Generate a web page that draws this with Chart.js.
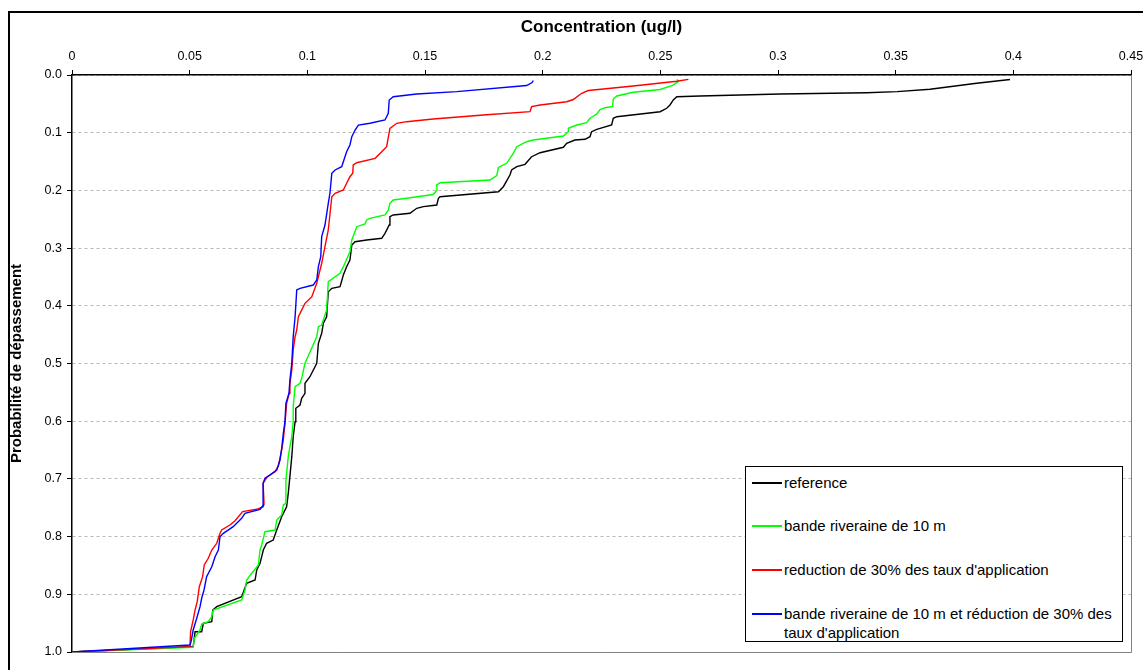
<!DOCTYPE html>
<html>
<head>
<meta charset="utf-8">
<script src="https://cdn.jsdelivr.net/npm/chart.js@4/dist/chart.umd.min.js"></script>
<style>
  html, body { margin: 0; padding: 0; background: #ffffff; }
  #wrap { position: relative; width: 1143px; height: 670px; overflow: hidden; }
  #c { position: absolute; left: 0; top: 0; }
  #legend { position: absolute; left: 745px; top: 466px; width: 378px; height: 176px;
    border: 1px solid #000; background: #fff; font-family: "Liberation Sans", Arial, sans-serif;
    font-size: 15px; color: #000; box-sizing: border-box; }
  .item { position: absolute; left: 6px; white-space: nowrap; line-height: 19px; }
  .swatch { position: absolute; left: 0; width: 30px; height: 1.5px; top: 9px; }
  .lbl { position: absolute; left: 32px; top: 0; }
</style>
</head>
<body>
<div id="wrap">
  <canvas id="c" width="1143" height="670"></canvas>
  <div id="legend"></div>
</div>
<script>
// Axis tick labels
const xTickLabels = ['0', '0.05', '0.1', '0.15', '0.2', '0.25', '0.3', '0.35', '0.4', '0.45'];
const yTickLabels = ['0.0', '0.1', '0.2', '0.3', '0.4', '0.5', '0.6', '0.7', '0.8', '0.9', '1.0'];

// Series names
const seriesNames = [
  'reference',
  'bande riveraine de 10 m',
  "reduction de 30% des taux d'application",
  "bande riveraine de 10 m et réduction de 30% des taux d'application"
];

// [concentration (ug/l), probabilité de dépassement]
const reference = [[0,1.0],[0.0515,0.9908],[0.0523,0.9648],[0.0551,0.9648],[0.0558,0.9503],[0.0594,0.9475],[0.0598,0.9272],[0.0615,0.9215],[0.0721,0.9042],[0.0742,0.8809],[0.0778,0.8752],[0.0785,0.8579],[0.0799,0.8463],[0.0813,0.8232],[0.0827,0.8116],[0.0855,0.8059],[0.0870,0.7886],[0.0891,0.7655],[0.0912,0.7482],[0.0919,0.7250],[0.0934,0.6615],[0.0940,0.6269],[0.0948,0.6009],[0.0951,0.5776],[0.0969,0.5719],[0.0976,0.5603],[0.0990,0.5516],[0.0990,0.5343],[0.1011,0.5229],[0.1040,0.4997],[0.1047,0.4650],[0.1061,0.4477],[0.1068,0.4303],[0.1082,0.4189],[0.1089,0.3756],[0.1104,0.3697],[0.1139,0.3669],[0.1153,0.3466],[0.1167,0.3322],[0.1181,0.3206],[0.1189,0.2946],[0.1203,0.2889],[0.1252,0.2860],[0.1316,0.2830],[0.1330,0.2744],[0.1348,0.2600],[0.1351,0.2456],[0.1365,0.2426],[0.1436,0.2397],[0.1465,0.2310],[0.1493,0.2282],[0.1550,0.2253],[0.1557,0.2137],[0.1564,0.2109],[0.1812,0.2023],[0.1833,0.1936],[0.1861,0.1733],[0.1868,0.1646],[0.1890,0.1589],[0.1925,0.1548],[0.1953,0.1416],[0.1989,0.1347],[0.2088,0.1253],[0.2102,0.1184],[0.2137,0.1127],[0.2180,0.1114],[0.2201,0.1069],[0.2208,0.0983],[0.2230,0.0941],[0.2293,0.0867],[0.2300,0.0750],[0.2315,0.0723],[0.2499,0.0636],[0.2527,0.0577],[0.2541,0.0520],[0.2555,0.0433],[0.2570,0.0376],[0.2669,0.0364],[0.3009,0.0329],[0.3377,0.0307],[0.3506,0.0289],[0.3646,0.0248],[0.3844,0.0144],[0.3986,0.0078]];

const bandeRiveraine = [[0,1.0],[0.0515,0.9919],[0.0520,0.9763],[0.0544,0.9619],[0.0551,0.9515],[0.0579,0.9475],[0.0594,0.9388],[0.0600,0.9272],[0.0721,0.9099],[0.0735,0.8925],[0.0742,0.8752],[0.0764,0.8636],[0.0792,0.8492],[0.0799,0.8232],[0.0806,0.8146],[0.0820,0.7915],[0.0863,0.7886],[0.0870,0.7712],[0.0891,0.7626],[0.0898,0.7452],[0.0908,0.7423],[0.0909,0.7019],[0.0919,0.6615],[0.0926,0.6442],[0.0934,0.6269],[0.0940,0.6009],[0.0940,0.5749],[0.0948,0.5402],[0.0969,0.5343],[0.0976,0.5257],[0.0990,0.4997],[0.1040,0.4536],[0.1047,0.4362],[0.1061,0.4333],[0.1082,0.4073],[0.1089,0.3582],[0.1139,0.3437],[0.1153,0.3322],[0.1181,0.3062],[0.1189,0.2860],[0.1210,0.2629],[0.1245,0.2582],[0.1252,0.2513],[0.1266,0.2484],[0.1330,0.2426],[0.1344,0.2340],[0.1351,0.2224],[0.1365,0.2166],[0.1422,0.2137],[0.1535,0.2071],[0.1551,0.1993],[0.1550,0.1906],[0.1564,0.1867],[0.1776,0.1820],[0.1805,0.1742],[0.1812,0.1603],[0.1847,0.1530],[0.1875,0.1357],[0.1890,0.1243],[0.1932,0.1156],[0.1960,0.1127],[0.2088,0.1057],[0.2109,0.0983],[0.2109,0.0924],[0.2145,0.0867],[0.2187,0.0827],[0.2201,0.0750],[0.2230,0.0676],[0.2244,0.0598],[0.2265,0.0567],[0.2297,0.0546],[0.2300,0.0416],[0.2315,0.0364],[0.2385,0.0300],[0.2499,0.0251],[0.2552,0.0179],[0.2576,0.0116],[0.2571,0.0075]];

const reduction30 = [[0,1.0],[0.0501,0.9908],[0.0504,0.9648],[0.0515,0.9445],[0.0523,0.9272],[0.0532,0.9128],[0.0541,0.8868],[0.0555,0.8695],[0.0562,0.8492],[0.0579,0.8376],[0.0594,0.8232],[0.0615,0.8116],[0.0629,0.7943],[0.0636,0.7886],[0.0671,0.7799],[0.0693,0.7724],[0.0725,0.7568],[0.0785,0.7527],[0.0813,0.7482],[0.0816,0.7418],[0.0812,0.7076],[0.0829,0.6967],[0.0863,0.6875],[0.0877,0.6776],[0.0891,0.6499],[0.0898,0.6326],[0.0905,0.6036],[0.0912,0.5690],[0.0923,0.5516],[0.0926,0.5343],[0.0934,0.5113],[0.0940,0.4766],[0.0948,0.4536],[0.0955,0.4419],[0.0962,0.4189],[0.0990,0.3957],[0.1019,0.3842],[0.1040,0.3610],[0.1061,0.3263],[0.1075,0.2976],[0.1089,0.2686],[0.1104,0.2109],[0.1118,0.2050],[0.1153,0.1993],[0.1167,0.1877],[0.1181,0.1763],[0.1193,0.1704],[0.1195,0.1560],[0.1210,0.1520],[0.1288,0.1444],[0.1316,0.1329],[0.1337,0.1243],[0.1351,0.0924],[0.1380,0.0837],[0.1422,0.0809],[0.1535,0.0763],[0.1748,0.0693],[0.1946,0.0636],[0.1953,0.0549],[0.1989,0.0520],[0.2102,0.0463],[0.2130,0.0425],[0.2166,0.0317],[0.2194,0.0269],[0.2385,0.0191],[0.2570,0.0109],[0.2619,0.0075]];

const bandeEtReduction = [[0,1.0],[0.0501,0.9879],[0.0506,0.9821],[0.0515,0.9619],[0.0530,0.9416],[0.0544,0.9215],[0.0551,0.9069],[0.0561,0.8925],[0.0572,0.8695],[0.0594,0.8522],[0.0608,0.8348],[0.0622,0.8232],[0.0629,0.8002],[0.0643,0.7943],[0.0685,0.7828],[0.0721,0.7683],[0.0735,0.7596],[0.0799,0.7527],[0.0813,0.7452],[0.0812,0.7076],[0.0820,0.6990],[0.0841,0.6932],[0.0870,0.6846],[0.0884,0.6672],[0.0891,0.6470],[0.0898,0.6210],[0.0905,0.6009],[0.0909,0.5690],[0.0922,0.5516],[0.0926,0.5286],[0.0934,0.4991],[0.0940,0.4536],[0.0948,0.4189],[0.0955,0.3726],[0.0969,0.3697],[0.1025,0.3640],[0.1040,0.3553],[0.1047,0.3322],[0.1057,0.3149],[0.1061,0.2802],[0.1075,0.2600],[0.1089,0.2224],[0.1096,0.2050],[0.1104,0.1704],[0.1118,0.1646],[0.1146,0.1589],[0.1160,0.1416],[0.1167,0.1329],[0.1181,0.1213],[0.1189,0.1069],[0.1203,0.0953],[0.1217,0.0867],[0.1266,0.0837],[0.1330,0.0780],[0.1344,0.0664],[0.1348,0.0433],[0.1365,0.0376],[0.1465,0.0329],[0.1635,0.0289],[0.1932,0.0182],[0.1955,0.0130],[0.1960,0.0095]];

const seriesData = [reference, bandeRiveraine, reduction30, bandeEtReduction];
const seriesColors = ['#000000', '#00ff00', '#ff0000', '#0000ff'];

const FONT = '"Liberation Sans", Arial, sans-serif';

const framePlugin = {
  id: 'frame',
  afterDraw(chart) {
    const ctx = chart.ctx;
    const a = chart.chartArea;
    ctx.save();
    // right and bottom plot border (gray)
    ctx.strokeStyle = '#808080';
    ctx.lineWidth = 1;
    ctx.beginPath();
    ctx.moveTo(Math.round(a.right) + 0.5, a.top);
    ctx.lineTo(Math.round(a.right) + 0.5, Math.round(a.bottom) + 0.5);
    ctx.lineTo(a.left, Math.round(a.bottom) + 0.5);
    ctx.stroke();
    // outer chart frame
    ctx.strokeStyle = '#000000';
    ctx.lineWidth = 2;
    ctx.beginPath();
    ctx.moveTo(9, chart.height + 5);
    ctx.lineTo(9, 12);
    ctx.lineTo(chart.width + 5, 12);
    ctx.stroke();
    ctx.restore();
  }
};

const datasets = seriesData.map((s, i) => ({
  label: seriesNames[i],
  data: s.map(p => ({ x: p[0], y: p[1] })),
  showLine: true,
  borderColor: seriesColors[i],
  backgroundColor: seriesColors[i],
  borderWidth: 1.4,
  pointRadius: 0,
  tension: 0,
  fill: false,
  order: 4 - i
}));

const chart = new Chart(document.getElementById('c'), {
  type: 'scatter',
  data: { datasets },
  plugins: [framePlugin],
  options: {
    responsive: false,
    animation: false,
    devicePixelRatio: 1,
    layout: { padding: { left: 0, top: 0, right: 12, bottom: 18 } },
    plugins: { legend: { display: false }, tooltip: { enabled: false } },
    scales: {
      x: {
        type: 'linear',
        position: 'top',
        min: 0,
        max: 0.45,
        afterFit(scale) { scale.height = 75; scale.paddingLeft = 0; scale.paddingRight = 0; },
        ticks: {
          stepSize: 0.05,
          color: '#000',
          padding: 6,
          font: { family: FONT, size: 12.5 },
          callback: (v) => xTickLabels[Math.round(v / 0.05)]
        },
        grid: { drawOnChartArea: false, drawTicks: true, tickLength: 5, tickColor: '#000', color: '#000' },
        border: { display: true, color: '#000', width: 1.5 },
        title: {
          display: true,
          text: 'Concentration (ug/l)',
          color: '#000',
          font: { family: FONT, size: 17, weight: 'bold' },
          padding: { top: 17, bottom: 0 }
        }
      },
      y: {
        type: 'linear',
        reverse: true,
        min: 0,
        max: 1,
        afterFit(scale) { scale.width = 72; scale.paddingTop = 0; scale.paddingBottom = 0; },
        ticks: {
          stepSize: 0.1,
          color: '#000',
          padding: 5,
          font: { family: FONT, size: 12.5 },
          callback: (v) => yTickLabels[Math.round(v * 10)]
        },
        grid: { drawOnChartArea: true, drawTicks: true, tickLength: 5, tickColor: '#000', color: '#b8b8b8', lineWidth: 1 },
        border: { display: true, color: '#000', width: 1.5, dash: [3, 3] },
        title: {
          display: true,
          text: 'Probabilité de dépassement',
          color: '#000',
          font: { family: FONT, size: 15, weight: 'bold' },
          padding: { top: 8, bottom: 0 }
        }
      }
    }
  }
});

// HTML legend built from the chart's datasets
const legend = document.getElementById('legend');
const itemTops = [6, 49, 93, 137];
chart.data.datasets.forEach((ds, i) => {
  const item = document.createElement('div');
  item.className = 'item';
  item.style.top = itemTops[i] + 'px';
  const sw = document.createElement('div');
  sw.className = 'swatch';
  sw.style.background = ds.borderColor;
  const lbl = document.createElement('div');
  lbl.className = 'lbl';
  if (i === 3) {
    lbl.innerHTML = 'bande riveraine de 10 m et réduction de 30% des<br>taux d\'application';
  } else {
    lbl.textContent = ds.label;
  }
  item.appendChild(sw);
  item.appendChild(lbl);
  legend.appendChild(item);
});
</script>
</body>
</html>
